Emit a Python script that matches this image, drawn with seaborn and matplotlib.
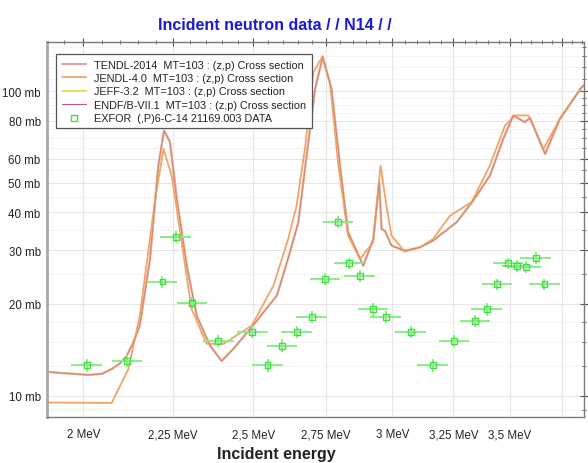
import numpy as np
import pandas as pd
import matplotlib
matplotlib.use("Agg")
import matplotlib.pyplot as plt
import seaborn as sns
from matplotlib.ticker import FixedLocator, NullFormatter

# ---- evaluated curve A (TENDL-2014 / JEFF-3.2 / ENDF/B-VII.1) ----
e_a = [1.90, 1.95, 2.013, 2.05, 2.076, 2.10, 2.117, 2.135, 2.154, 2.183, 2.207, 2.2235, 2.241, 2.261, 2.291, 2.321,
       2.362, 2.398, 2.434, 2.499, 2.578, 2.589, 2.623, 2.652, 2.681, 2.711, 2.738, 2.770,
       2.801, 2.831, 2.888, 2.926, 2.949, 2.958, 2.971, 2.997, 3.050, 3.111, 3.165, 3.264,
       3.336, 3.410, 3.470, 3.516, 3.570, 3.594, 3.666, 3.738, 3.846, 3.87]
xs_a = [12.0, 11.85, 11.7, 11.8, 12.24, 12.8, 13.5, 14.9, 17.0, 28.1, 57.0, 74.2, 68.1, 44.3, 26.7, 18.3,
        14.6, 13.0, 14.2, 17.0, 21.3, 23.0, 29.6, 37.1, 61.4, 101.8, 129.3, 101.8,
        57.0, 34.4, 26.7, 32.7, 50.2, 35.3, 34.8, 31.1, 29.9, 30.7, 32.3, 37.1,
        43.7, 52.8, 69.7, 83.2, 79.1, 81.7, 62.2, 81.1, 103.0, 106.0]

# ---- evaluated curve B (JENDL-4.0) ----
e_b = [1.90, 2.076, 2.122, 2.154, 2.198, 2.222, 2.246, 2.271, 2.305, 2.351, 2.404, 2.495,
       2.567, 2.617, 2.646, 2.675, 2.705, 2.738, 2.764, 2.795, 2.831, 2.875, 2.926, 2.954,
       2.977, 2.997, 3.050, 3.111, 3.165, 3.236, 3.329, 3.410, 3.478, 3.524, 3.587, 3.658,
       3.738, 3.846, 3.87]
xs_b = [9.5, 9.46, 12.24, 18.3, 44.3, 64.6, 52.8, 34.5, 19.3, 14.8, 14.8, 17.0,
        23.0, 32.7, 42.1, 64.6, 115.5, 130.3, 107.0, 57.0, 33.5, 28.1, 31.9, 57.0,
        42.1, 33.5, 29.7, 30.7, 32.7, 39.0, 43.2, 57.0, 77.1, 83.2, 83.2, 64.6,
        81.1, 103.0, 106.0]

# ---- EXFOR 21169.003 ----
exf_e = [2.009, 2.118, 2.219, 2.258, 2.307, 2.388, 2.497, 2.547, 2.597, 2.646, 2.699, 2.747,
         2.795, 2.835, 2.875, 2.926, 2.975, 3.074, 3.163, 3.253, 3.344, 3.396, 3.443, 3.493,
         3.535, 3.574, 3.621, 3.663]
exf_xs = [12.6, 13.0, 23.7, 33.3, 20.2, 15.1, 16.2, 12.6, 14.6, 16.2, 18.1, 24.2,
          37.3, 27.2, 24.7, 19.2, 18.1, 16.2, 12.6, 15.1, 17.6, 19.2, 23.2, 27.2,
          26.7, 26.4, 28.3, 23.2]
exf_dx = [0.040, 0.042, 0.044, 0.045, 0.046, 0.048, 0.050, 0.051, 0.052, 0.053, 0.054, 0.055,
          0.056, 0.057, 0.058, 0.059, 0.060, 0.062, 0.063, 0.065, 0.067, 0.068, 0.069, 0.070,
          0.071, 0.071, 0.072, 0.073]
exf_dy = [0.6, 0.6, 1.1, 1.5, 0.9, 0.7, 0.75, 0.6, 0.7, 0.75, 0.8, 1.1,
          1.7, 1.2, 1.1, 0.9, 0.8, 0.75, 0.6, 0.7, 0.8, 0.9, 1.05, 1.2,
          1.2, 1.2, 1.3, 1.05]

x_ticks = [2.0, 2.25, 2.5, 2.75, 3.0, 3.25, 3.5, 3.75]
x_labels = ["2 MeV", "2,25 MeV", "2,5 MeV", "2,75 MeV", "3 MeV", "3,25 MeV", "3,5 MeV", ""]
y_ticks = [10, 20, 30, 40, 50, 60, 80, 100]
y_labels = ["10 mb", "20 mb", "30 mb", "40 mb", "50 mb", "60 mb", "80 mb", "100 mb"]

sns.set_theme(style="white")
plt.rcParams['font.family'] = ['Liberation Sans', 'DejaVu Sans']

fig = plt.figure(figsize=(5.88, 4.64), dpi=100)
ax = fig.add_axes([47/588, 1-418/464, (584-47)/588, (418-43)/464])

df_a = pd.DataFrame({"E": e_a, "xs": xs_a})
df_b = pd.DataFrame({"E": e_b, "xs": xs_b})

sns.lineplot(data=df_a, x="E", y="xs", ax=ax, color="#e8a0b0", lw=1.6, sort=False,
             estimator=None, label="TENDL-2014  MT=103 : (z,p) Cross section")
sns.lineplot(data=df_b, x="E", y="xs", ax=ax, color="#f2a466", lw=1.3, sort=False,
             estimator=None, label="JENDL-4.0  MT=103 : (z,p) Cross section")
sns.lineplot(data=df_a, x="E", y="xs", ax=ax, color="#e6dc60", lw=1.4, alpha=0.55, sort=False,
             estimator=None, label="JEFF-3.2  MT=103 : (z,p) Cross section")
sns.lineplot(data=df_a, x="E", y="xs", ax=ax, color="#c8507a", lw=0.8, alpha=0.55, sort=False,
             estimator=None, label="ENDF/B-VII.1  MT=103 : (z,p) Cross section")

ax.errorbar(exf_e, exf_xs, xerr=exf_dx, yerr=exf_dy, fmt="none", ecolor="#86f086",
            elinewidth=1.4, capsize=0, zorder=4)
sns.scatterplot(x=exf_e, y=exf_xs, ax=ax, marker="s", s=18, facecolor="none",
                edgecolor="#44dd44", linewidth=1.0, zorder=5,
                label="EXFOR  (,P)6-C-14 21169.003 DATA")

ax.set_xscale("log")
ax.set_yscale("log")
ax.set_xlim(1.907, 3.858)
ax.set_ylim(8.51, 145)

ax.xaxis.set_major_locator(FixedLocator(x_ticks))
ax.set_xticklabels(x_labels)
ax.xaxis.set_minor_locator(FixedLocator(list(np.arange(1.95, 3.86, 0.05))))
ax.xaxis.set_minor_formatter(NullFormatter())
ax.yaxis.set_major_locator(FixedLocator(y_ticks))
ax.set_yticklabels(y_labels)
ax.yaxis.set_minor_locator(FixedLocator([9, 12.5, 15, 17.5, 25, 35, 45, 55, 65, 70, 75, 85, 90, 95, 110, 120, 130, 140]))
ax.yaxis.set_minor_formatter(NullFormatter())

ax.tick_params(which="both", direction="inout", top=True, right=True, colors="#555555",
               labelsize=8.3, labelcolor="#222222")
ax.tick_params(which="major", length=6, width=0.8)
ax.tick_params(which="minor", length=3.5, width=0.6)
ax.tick_params(axis="x", which="major", pad=5)
ax.tick_params(axis="y", which="major", pad=1.5)

ax.grid(True, which="major", color="#e6e6e6", lw=0.8)
ax.grid(True, which="minor", axis="y", color="#f3f3f3", lw=0.6)
ax.set_axisbelow(True)

for s in ax.spines.values():
    s.set_color("#7a7a7a")
    s.set_linewidth(1.0)
ax.spines["left"].set_linewidth(2.0)
ax.spines["left"].set_color("#a8a8a8")

ax.set_xlabel("")
ax.set_ylabel("")

leg = ax.legend(loc="upper left", bbox_to_anchor=(4/537, 1-7/375), fontsize=7.8,
                frameon=True, fancybox=False, edgecolor="#555555", framealpha=1,
                handlelength=2.2, borderpad=0.5, labelspacing=0.3, handletextpad=0.8)
leg.get_frame().set_linewidth(0.9)
for h in leg.legend_handles:
    h.set_alpha(1)
for t in leg.get_texts():
    t.set_color("#222222")

fig.text(275/588, 1-25/464, "Incident neutron data / / N14 / /", color="#1a1ad0",
         fontsize=11.5, fontweight="bold", ha="center", va="center")
fig.text(276/588, 1-455/464, "Incident energy", color="#222222",
         fontsize=11.5, fontweight="bold", ha="center", va="center")

fig.savefig("out.png", dpi=100)
